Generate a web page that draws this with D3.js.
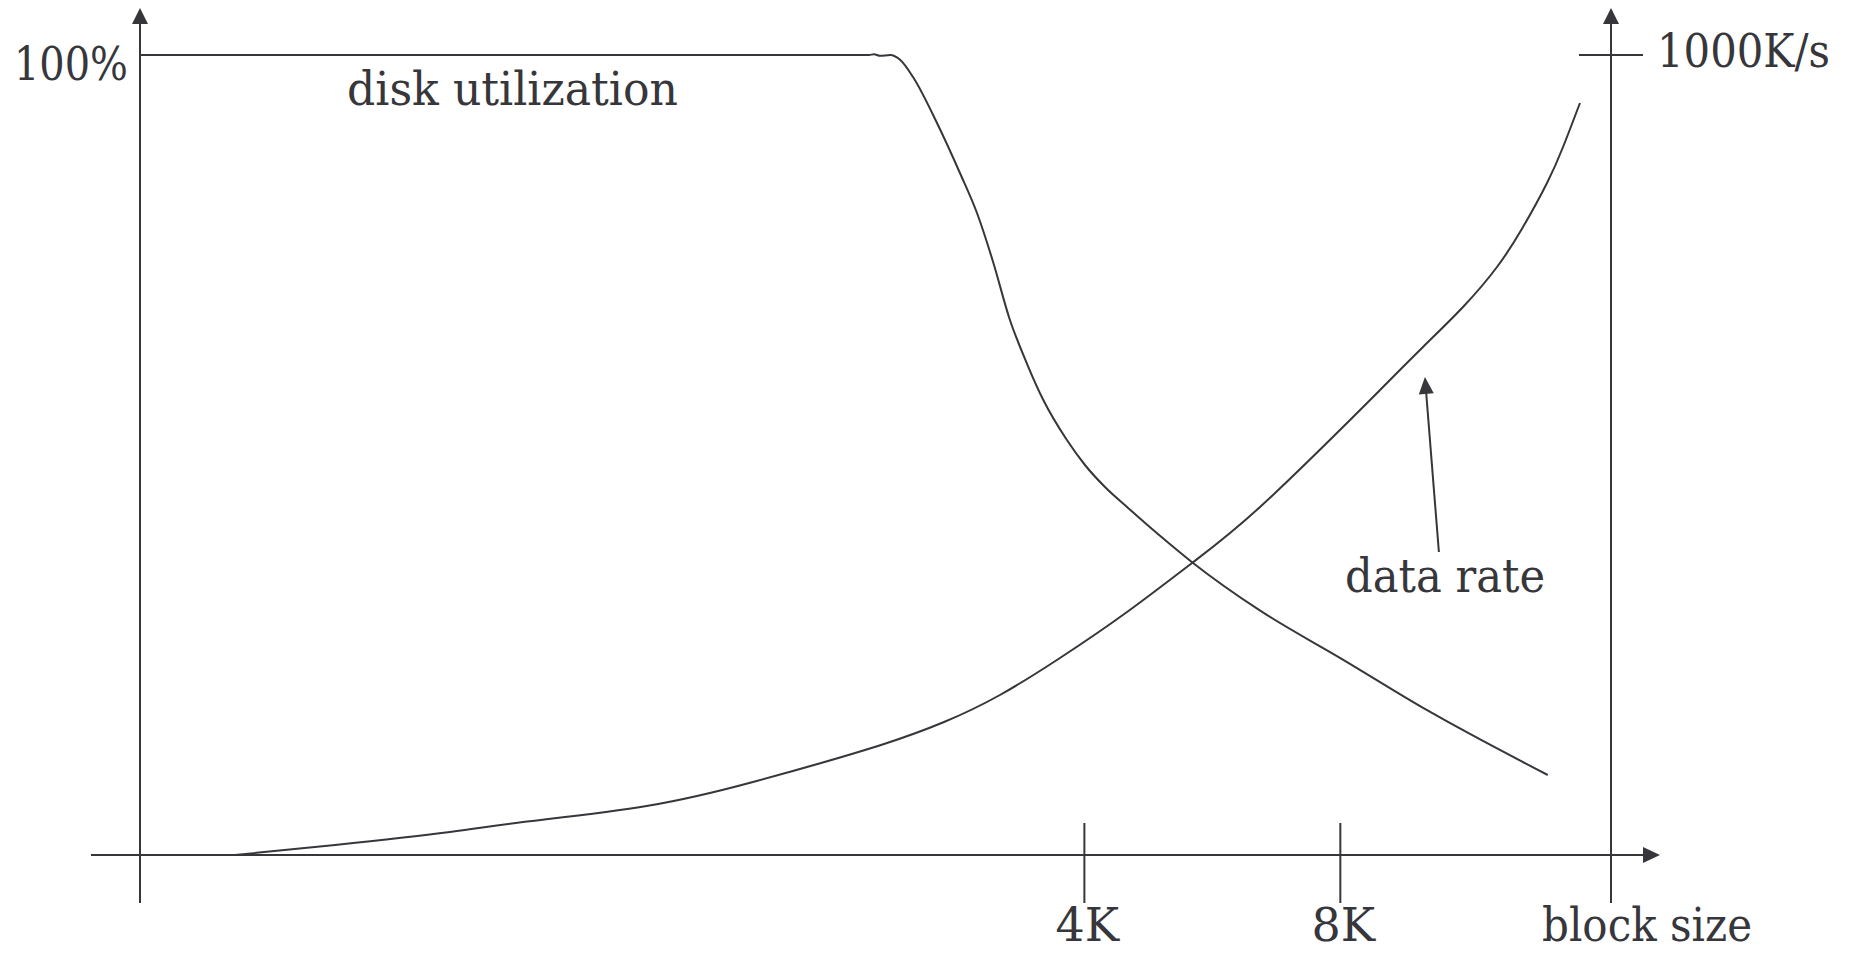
<!DOCTYPE html>
<html>
<head>
<meta charset="utf-8">
<script src="https://cdn.jsdelivr.net/npm/d3@7"></script>
<style>
  html, body { margin: 0; padding: 0; background: #fff; }
  svg { display: block; }
  text { font-family: "DejaVu Serif", "Liberation Serif", serif; fill: #36363b; }
</style>
</head>
<body>
<svg id="chart" width="1854" height="953"></svg>
<script>
// ---- data (x: position along block-size axis, 0..100 schematic units) ----
const diskX = [0, 49.56, 49.9, 50.3, 51.0, 51.67, 52.55, 54.18, 55.74, 56.9, 58.0, 59.1, 60.3, 61.4, 63.0, 64.24, 65.6, 67.1, 69.34, 71.52, 76.1, 81.8, 87.5, 95.7];
const diskUtil = [100, 100, 100.1, 99.9, 100, 99.4, 97.25, 91.5, 85.25, 80.25, 74.1, 67.1, 61.4, 56.9, 51.9, 48.75, 46.0, 43.5, 39.9, 36.6, 30.6, 24.4, 18.1, 10.0];

const rateX = [6.46, 13.26, 21.07, 26.04, 34.53, 41.67, 46.3, 50.58, 54.66, 58.46, 62.54, 67.1, 71.52, 76.14, 82.26, 84.3, 87.22, 89.94, 92.25, 94.02, 95.65, 96.74, 97.89];
const rateVal = [0, 12.5, 28.75, 41.25, 61.5, 91.25, 115, 138.75, 166.25, 200, 246.25, 303.75, 365, 435, 543.75, 581.25, 635, 685, 735, 785, 840, 885, 940];

const xTickPos = [64.2, 81.6];
const xTickLabels = ["4K", "8K"];
const leftTickVal = [100];
const leftTickLabels = ["100%"];
const rightTickVal = [1000];
const rightTickLabels = ["1000K/s"];

// ---- scales ----
const x = d3.scaleLinear().domain([0, 100]).range([140, 1611]);
const yL = d3.scaleLinear().domain([0, 100]).range([855, 55]);
const yR = d3.scaleLinear().domain([0, 1000]).range([855, 55]);

const ink = "#36363b";
const svg = d3.select("#chart");

// axis extents derived from scales
const xAxisStart = x(0) - 49, xAxisEnd = x(100) + 49;
const yAxisTop = yL(100) - 47, yAxisBottom = yL(0) + 48;

function arrowHead(tipX, tipY, dx, dy, len, halfW) {
  const n = Math.hypot(dx, dy); const ux = dx / n, uy = dy / n;
  const bx = tipX - ux * len, by = tipY - uy * len;
  const px = -uy, py = ux;
  return `M${tipX},${tipY}L${bx + px * halfW},${by + py * halfW}L${bx - px * halfW},${by - py * halfW}Z`;
}

const g = svg.append("g");

// x axis
g.append("line").attr("x1", xAxisStart).attr("x2", xAxisEnd - 4)
  .attr("y1", yL(0)).attr("y2", yL(0)).attr("stroke", ink).attr("stroke-width", 2);
g.append("path").attr("d", arrowHead(xAxisEnd, yL(0), 1, 0, 17, 8)).attr("fill", ink);

// left axis
g.append("line").attr("x1", x(0)).attr("x2", x(0)).attr("y1", yAxisBottom).attr("y2", yAxisTop + 4)
  .attr("stroke", ink).attr("stroke-width", 2);
g.append("path").attr("d", arrowHead(x(0), yAxisTop, 0, -1, 16, 8)).attr("fill", ink);

// right axis
g.append("line").attr("x1", x(100)).attr("x2", x(100)).attr("y1", yAxisBottom).attr("y2", yAxisTop + 4)
  .attr("stroke", ink).attr("stroke-width", 2);
g.append("path").attr("d", arrowHead(x(100), yAxisTop, 0, -1, 16, 8)).attr("fill", ink);

// x ticks (cross the axis)
xTickPos.forEach((v, i) => {
  g.append("line").attr("x1", x(v)).attr("x2", x(v)).attr("y1", yL(0) - 32).attr("y2", yL(0) + 48)
    .attr("stroke", ink).attr("stroke-width", 2);
  g.append("text").attr("x", x(v) + 3).attr("y", 941).attr("text-anchor", "middle")
    .attr("font-size", 46).text(xTickLabels[i]);
});
g.append("text").attr("x", 1542).attr("y", 941).attr("font-size", 46)
  .attr("textLength", 210).attr("lengthAdjust", "spacingAndGlyphs").text("block size");

// left tick label
leftTickVal.forEach((v, i) => {
  g.append("text").attr("x", 128).attr("y", yL(v) + 25).attr("text-anchor", "end")
    .attr("font-size", 46).attr("textLength", 114).attr("lengthAdjust", "spacingAndGlyphs").text(leftTickLabels[i]);
});

// right tick + label
rightTickVal.forEach((v, i) => {
  g.append("line").attr("x1", x(100) - 32).attr("x2", x(100) + 32).attr("y1", yR(v)).attr("y2", yR(v))
    .attr("stroke", ink).attr("stroke-width", 2);
  g.append("text").attr("x", 1657).attr("y", yR(v) + 12).attr("font-size", 46)
    .attr("textLength", 173).attr("lengthAdjust", "spacingAndGlyphs").text(rightTickLabels[i]);
});

// curves
const diskLine = d3.line().x((d, i) => x(diskX[i])).y(d => yL(d)).curve(d3.curveMonotoneX);
const rateLine = d3.line().x((d, i) => x(rateX[i])).y(d => yR(d)).curve(d3.curveNatural);

g.append("path").attr("d", diskLine(diskUtil)).attr("fill", "none").attr("stroke", ink).attr("stroke-width", 2);
g.append("path").attr("d", rateLine(rateVal)).attr("fill", "none").attr("stroke", ink).attr("stroke-width", 2);

// labels
g.append("text").attr("x", 347).attr("y", 105).attr("font-size", 46)
  .attr("textLength", 331).attr("lengthAdjust", "spacingAndGlyphs").text("disk utilization");
g.append("text").attr("x", 1345).attr("y", 592).attr("font-size", 46)
  .attr("textLength", 200).attr("lengthAdjust", "spacingAndGlyphs").text("data rate");

// annotation arrow for data rate
const aFrom = [x(88.3), yR(378.75)], aTo = [x(87.35), yR(597.5)];
g.append("line").attr("x1", aFrom[0]).attr("y1", aFrom[1]).attr("x2", aTo[0] + (aFrom[0]-aTo[0])*0.06).attr("y2", aTo[1] + (aFrom[1]-aTo[1])*0.06)
  .attr("stroke", ink).attr("stroke-width", 2);
g.append("path").attr("d", arrowHead(aTo[0], aTo[1], aTo[0] - aFrom[0], aTo[1] - aFrom[1], 17, 7.5)).attr("fill", ink);
</script>
</body>
</html>
